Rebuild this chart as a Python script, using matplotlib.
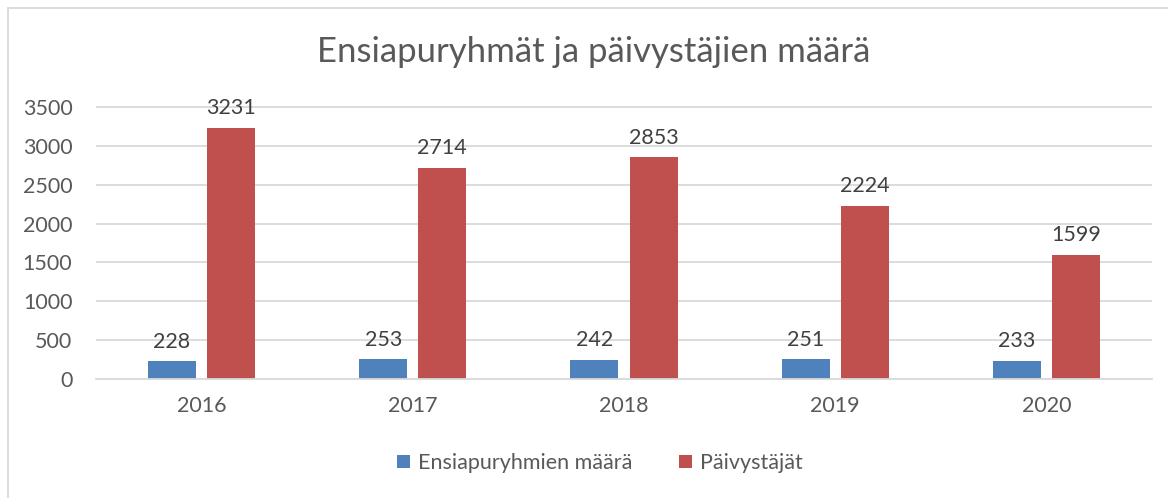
import numpy as np
import matplotlib.pyplot as plt
from matplotlib.patches import Rectangle

years = ["2016", "2017", "2018", "2019", "2020"]
ensiapuryhmat = [228, 253, 242, 251, 233]
paivystajat = [3231, 2714, 2853, 2224, 1599]
series_names = ["Ensiapuryhmien määrä", "Päivystäjät"]

blue = "#4f81bd"
red = "#c0504d"
grey = "#595959"
grid = "#d9d9d9"

plt.rcParams["font.family"] = ["Lato", "DejaVu Sans"]

fig = plt.figure(figsize=(11.68, 4.98), dpi=100)
ax = fig.add_axes([96 / 1168, 1 - 379 / 498, (1152 - 96) / 1168, (379 - 107) / 498 * 8 / 7])

x = np.arange(len(years))
w = 0.227
off = 0.14
b1 = ax.bar(x - off, ensiapuryhmat, w, color=blue, label=series_names[0])
b2 = ax.bar(x + off, paivystajat, w, color=red, label=series_names[1])

for bars in (b1, b2):
    for r in bars:
        ax.annotate(str(int(r.get_height())), (r.get_x() + r.get_width() / 2, r.get_height()),
                    xytext=(0, 7), textcoords="offset points", ha="center", va="bottom",
                    fontsize=15.5, color="#404040")

ax.set_xlim(-0.5, len(years) - 0.5)
ax.set_ylim(0, 4000)
ax.set_yticks(range(0, 4000, 500))
ax.set_xticks(x)
ax.set_xticklabels(years)
ax.yaxis.grid(True, color=grid, linewidth=1.3)
ax.set_axisbelow(True)
for s in ["top", "right", "left"]:
    ax.spines[s].set_visible(False)
ax.spines["bottom"].set_color(grid)
ax.spines["bottom"].set_linewidth(1.3)
ax.tick_params(axis="both", length=0, labelsize=15.5, labelcolor=grey)
ax.tick_params(axis="y", pad=17)
ax.tick_params(axis="x", pad=12)

fig.text(594 / 1168, 1 - 52 / 498, "Ensiapuryhmät ja päivystäjien määrä", ha="center", va="center",
         fontsize=25, color=grey)

fig.legend(loc="center", bbox_to_anchor=(600 / 1168, 1 - 463 / 498), ncol=2, frameon=False,
           fontsize=15.5, labelcolor=grey, handlelength=0.6, handleheight=0.6, handletextpad=0.35,
           columnspacing=2.2)

fig.patches.append(Rectangle((8 / 1168, -0.01), 1.1, 1 - 8 / 498 + 0.01, transform=fig.transFigure,
                             fill=False, edgecolor="#d9d9d9", linewidth=1.3))

fig.savefig("out.png", dpi=100)
